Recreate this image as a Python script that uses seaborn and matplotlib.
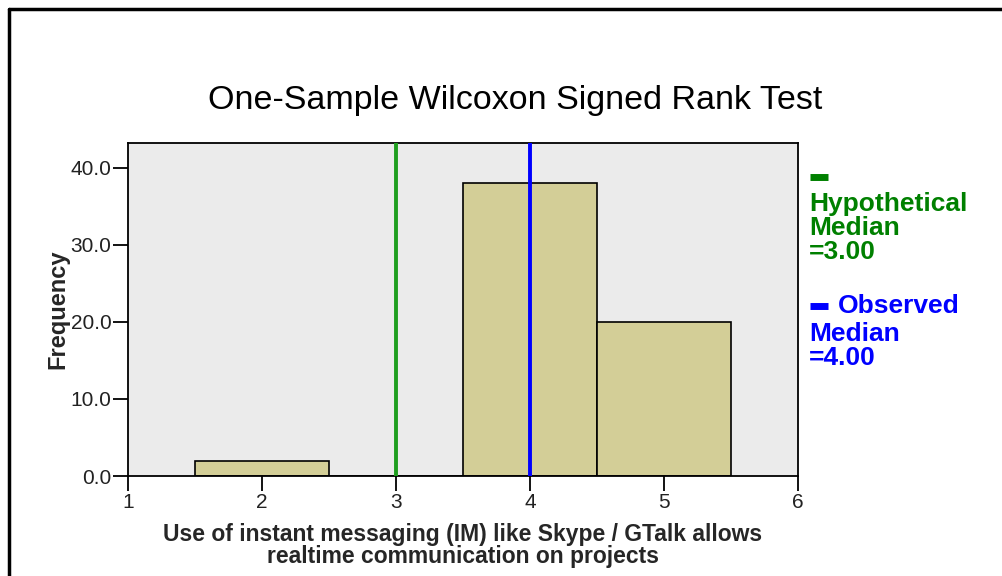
import matplotlib
matplotlib.use("Agg")
import matplotlib.pyplot as plt
from matplotlib.lines import Line2D
import seaborn as sns

# data
scores = [2, 4, 5]
counts = [2, 38, 20]
hypothetical_median = 3.00
observed_median = 4.00
xticks = [1, 2, 3, 4, 5, 6]
yticks = [0, 10, 20, 30, 40]

sns.set_theme(style="white")
plt.rcParams["font.family"] = ["Liberation Sans", "DejaVu Sans"]

fig = plt.figure(figsize=(10.02, 5.76), dpi=100)
ax = fig.add_axes([128 / 1002, 1 - 476 / 576, 670 / 1002, 333 / 576])
ax.set_facecolor("#EBEBEB")

sns.histplot(x=scores, weights=counts, discrete=True, ax=ax,
             color="#D3CE97", alpha=1, edgecolor="black", linewidth=1.2)

ax.axvline(hypothetical_median, color="#1E9E1E", lw=2.8, zorder=5)
ax.axvline(observed_median, color="#0000FF", lw=2.8, zorder=5)

ax.set_xlim(1, 6)
ax.set_ylim(0, 43.2)
ax.set_xticks(xticks)
ax.set_yticks(yticks)
ax.set_yticklabels([f"{v:.1f}" for v in yticks])
ax.tick_params(axis="both", direction="out", length=11, width=1.3,
               colors="black", labelsize=15, labelcolor="#222222")
ax.tick_params(axis="x", pad=1)
ax.tick_params(axis="y", pad=1)
ax.tick_params(left=True, bottom=True)
for s in ax.spines.values():
    s.set_color("black")
    s.set_linewidth(1.3)

ax.set_xlabel("Use of instant messaging (IM) like Skype / GTalk allows\nrealtime communication on projects",
              fontsize=16.5, fontweight="bold", linespacing=0.95, labelpad=8)
ax.set_ylabel("Frequency", fontsize=17, fontweight="bold", labelpad=1)

fig.text(515 / 1002, 1 - 100 / 576, "One-Sample Wilcoxon Signed Rank Test",
         ha="center", va="center", fontsize=24.5, color="black")

# right side legend
green = "#008000"
blue = "#0000FF"
fig.add_artist(Line2D([810 / 1002, 828 / 1002], [1 - 177 / 576] * 2,
                      color=green, lw=5, solid_capstyle="butt"))
fig.text(809 / 1002, 1 - 192 / 576, "Hypothetical\nMedian\n=3.00", color=green,
         fontsize=19, fontweight="bold", ha="left", va="top", linespacing=1.0)
fig.add_artist(Line2D([810 / 1002, 828 / 1002], [1 - 306 / 576] * 2,
                      color=blue, lw=5, solid_capstyle="butt"))
fig.text(838 / 1002, 1 - 306 / 576, "Observed", color=blue,
         fontsize=19, fontweight="bold", ha="left", va="center")
fig.text(809 / 1002, 1 - 322 / 576, "Median\n=4.00", color=blue,
         fontsize=19, fontweight="bold", ha="left", va="top", linespacing=1.0)

# outer frame (top and left edges visible)
fig.add_artist(Line2D([9 / 1002, 1.0], [1 - 9 / 576] * 2, color="black", lw=2.5))
fig.add_artist(Line2D([9 / 1002] * 2, [0, 1 - 9 / 576], color="black", lw=2.5))

fig.savefig("out.png", dpi=100)
